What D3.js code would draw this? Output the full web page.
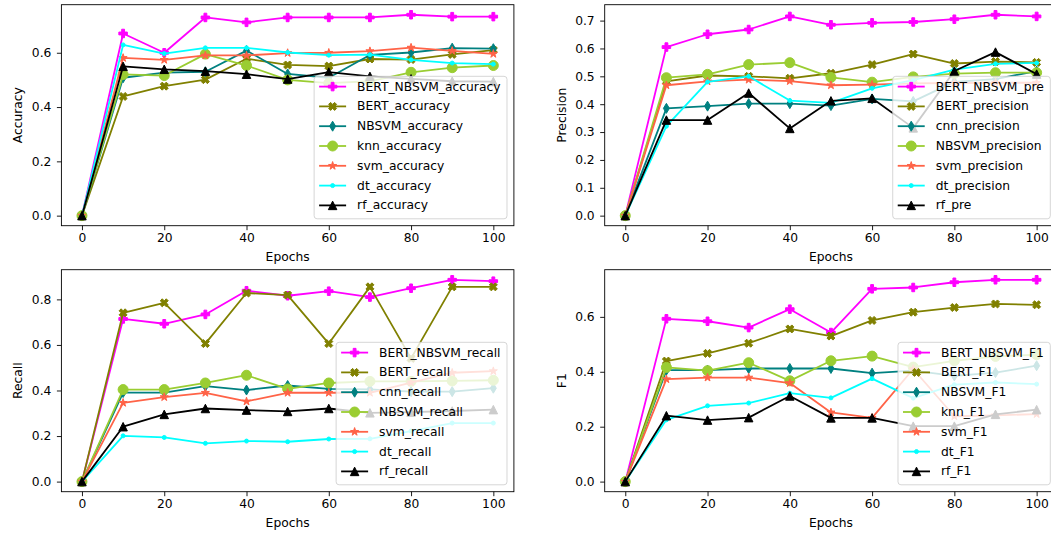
<!DOCTYPE html>
<html><head><meta charset="utf-8">
<script src="https://cdn.jsdelivr.net/npm/d3@7/dist/d3.min.js"></script>
<style>
body{margin:0;background:#fff}
svg{display:block;font-family:"DejaVu Sans",sans-serif}
</style>
</head><body>
<svg id="chart" width="1051" height="533"></svg>
<script>
// ---------- data ----------
const epochs = [0, 10, 20, 30, 40, 50, 60, 70, 80, 90, 100];
const xTickValues = [0, 20, 40, 60, 80, 100];

const accLabels = ["BERT_NBSVM_accuracy","BERT_accuracy","NBSVM_accuracy","knn_accuracy","svm_accuracy","dt_accuracy","rf_accuracy"];
const accBertNbsvm = [0, 0.671, 0.600, 0.730, 0.712, 0.730, 0.730, 0.730, 0.740, 0.733, 0.733];
const accBert      = [0, 0.439, 0.477, 0.501, 0.578, 0.555, 0.551, 0.577, 0.575, 0.594, 0.610];
const accNbsvm     = [0, 0.508, 0.527, 0.530, 0.608, 0.522, 0.508, 0.592, 0.601, 0.617, 0.615];
const accKnn       = [0, 0.520, 0.516, 0.595, 0.553, 0.500, 0.488, 0.495, 0.528, 0.545, 0.553];
const accSvm       = [0, 0.581, 0.574, 0.590, 0.590, 0.599, 0.600, 0.606, 0.619, 0.607, 0.596];
const accDt        = [0, 0.629, 0.597, 0.618, 0.618, 0.601, 0.591, 0.593, 0.574, 0.562, 0.558];
const accRf        = [0, 0.550, 0.539, 0.532, 0.521, 0.503, 0.529, 0.513, 0.504, 0.495, 0.494];
const accTicks = [0, 0.2, 0.4, 0.6];

const preLabels = ["BERT_NBSVM_pre","BERT_precision","cnn_precision","NBSVM_precision","svm_precision","dt_precision","rf_pre"];
const preBertNbsvm = [0, 0.605, 0.651, 0.668, 0.715, 0.685, 0.692, 0.695, 0.705, 0.721, 0.715];
const preBert      = [0, 0.482, 0.503, 0.500, 0.493, 0.511, 0.542, 0.580, 0.546, 0.553, 0.550];
const preCnn       = [0, 0.385, 0.393, 0.402, 0.402, 0.395, 0.419, 0.410, 0.480, 0.490, 0.519];
const preNbsvm     = [0, 0.495, 0.507, 0.542, 0.549, 0.496, 0.479, 0.498, 0.510, 0.513, 0.513];
const preSvm       = [0, 0.468, 0.482, 0.488, 0.483, 0.468, 0.470, 0.475, 0.476, 0.477, 0.477];
const preDt        = [0, 0.321, 0.480, 0.500, 0.413, 0.405, 0.457, 0.486, 0.524, 0.545, 0.548];
const preRf        = [0, 0.343, 0.343, 0.440, 0.313, 0.412, 0.421, 0.315, 0.519, 0.587, 0.508];
const preTicks = [0, 0.1, 0.2, 0.3, 0.4, 0.5, 0.6, 0.7];

const recLabels = ["BERT_NBSVM_recall","BERT_recall","cnn_recall","NBSVM_recall","svm_recall","dt_recall","rf_recall"];
const recBertNbsvm = [0, 0.714, 0.693, 0.734, 0.838, 0.816, 0.836, 0.810, 0.849, 0.886, 0.880];
const recBert      = [0, 0.741, 0.785, 0.606, 0.828, 0.819, 0.606, 0.855, 0.541, 0.855, 0.855];
const recCnn       = [0, 0.391, 0.391, 0.419, 0.402, 0.422, 0.407, 0.405, 0.395, 0.395, 0.410];
const recNbsvm     = [0, 0.404, 0.404, 0.433, 0.467, 0.407, 0.433, 0.440, 0.440, 0.442, 0.445];
const recSvm       = [0, 0.346, 0.371, 0.390, 0.352, 0.390, 0.390, 0.390, 0.435, 0.478, 0.485];
const recDt        = [0, 0.201, 0.194, 0.168, 0.178, 0.175, 0.187, 0.188, 0.222, 0.257, 0.257];
const recRf        = [0, 0.241, 0.295, 0.321, 0.314, 0.308, 0.321, 0.302, 0.305, 0.310, 0.316];
const recTicks = [0, 0.2, 0.4, 0.6, 0.8];

const f1Labels = ["BERT_NBSVM_F1","BERT_F1","NBSVM_F1","knn_F1","svm_F1","dt_F1","rf_F1"];
const f1BertNbsvm = [0, 0.593, 0.584, 0.561, 0.628, 0.543, 0.702, 0.707, 0.726, 0.735, 0.735];
const f1Bert      = [0, 0.439, 0.467, 0.504, 0.556, 0.530, 0.587, 0.617, 0.634, 0.647, 0.644];
const f1Nbsvm     = [0, 0.406, 0.406, 0.412, 0.412, 0.412, 0.395, 0.404, 0.385, 0.397, 0.422];
const f1Knn       = [0, 0.416, 0.404, 0.433, 0.367, 0.440, 0.457, 0.417, 0.440, 0.456, 0.462];
const f1Svm       = [0, 0.373, 0.379, 0.379, 0.359, 0.252, 0.232, 0.410, 0.238, 0.241, 0.246];
const f1Dt        = [0, 0.225, 0.276, 0.286, 0.322, 0.305, 0.375, 0.304, 0.353, 0.361, 0.355];
const f1Rf        = [0, 0.240, 0.224, 0.233, 0.312, 0.232, 0.232, 0.202, 0.202, 0.245, 0.262];
const f1Ticks = [0, 0.2, 0.4, 0.6];

// ---------- styles / layout ----------
const seriesStyles = [
  {color:"#ff00ff", marker:"P"},
  {color:"#808000", marker:"X"},
  {color:"#008080", marker:"d"},
  {color:"#9acd32", marker:"o"},
  {color:"#ff6347", marker:"*"},
  {color:"#00ffff", marker:"."},
  {color:"#000000", marker:"^"}
];

const panels = [
  {ylabel:"Accuracy",  labels:accLabels, ticks:accTicks, fmt:".1f",
   series:[accBertNbsvm, accBert, accNbsvm, accKnn, accSvm, accDt, accRf],
   box:{l:61.4, r:513.9, t:4.7, b:225.7}},
  {ylabel:"Precision", labels:preLabels, ticks:preTicks, fmt:".1f",
   series:[preBertNbsvm, preBert, preCnn, preNbsvm, preSvm, preDt, preRf],
   box:{l:604.7, r:1057.2, t:4.7, b:225.7}},
  {ylabel:"Recall",    labels:recLabels, ticks:recTicks, fmt:".1f",
   series:[recBertNbsvm, recBert, recCnn, recNbsvm, recSvm, recDt, recRf],
   box:{l:61.4, r:513.9, t:269.7, b:491.7}},
  {ylabel:"F1",        labels:f1Labels, ticks:f1Ticks, fmt:".1f",
   series:[f1BertNbsvm, f1Bert, f1Nbsvm, f1Knn, f1Svm, f1Dt, f1Rf],
   box:{l:604.7, r:1057.2, t:269.7, b:491.7}}
];

const FONT = 12.3;
const LW = 1.8;

function markerPath(type, s) {
  const h = s / 2;
  if (type === "P" || type === "X") {
    const w = s / 6;
    let pts = [[-w,-h],[w,-h],[w,-w],[h,-w],[h,w],[w,w],[w,h],[-w,h],[-w,w],[-h,w],[-h,-w],[-w,-w]];
    if (type === "X") {
      const c = Math.SQRT1_2;
      pts = pts.map(([x,y]) => [x*c - y*c, x*c + y*c]);
    }
    return "M" + pts.map(p => p.map(v=>v.toFixed(2)).join(",")).join("L") + "Z";
  }
  if (type === "d") {
    const w = 0.6 * h;
    return `M0,${-h}L${w},0L0,${h}L${-w},0Z`;
  }
  if (type === "o" || type === ".") {
    const r = type === "o" ? h : h * 0.5;
    return `M${r},0A${r},${r} 0 1,1 ${-r},0A${r},${r} 0 1,1 ${r},0Z`;
  }
  if (type === "*") {
    const pts = [];
    for (let i = 0; i < 10; i++) {
      const r = i % 2 === 0 ? h : h * 0.381966;
      const a = -Math.PI/2 + i * Math.PI / 5;
      pts.push([r*Math.cos(a), r*Math.sin(a)]);
    }
    return "M" + pts.map(p => p.map(v=>v.toFixed(2)).join(",")).join("L") + "Z";
  }
  if (type === "^") {
    return `M0,${-h}L${h},${h}L${-h},${h}Z`;
  }
  return "";
}
function markerSize(type) {
  if (type === "o") return 10;
  if (type === "*") return 8.5;
  if (type === ".") return 8;
  if (type === "d") return 10;
  return 8.5;
}

const svg = d3.select("#chart");

panels.forEach(p => {
  const B = p.box;
  const x = d3.scaleLinear().domain([-5, 105]).range([B.l, B.r]);
  const ymax = d3.max(p.series, s => d3.max(s));
  const ymin = d3.min(p.series, s => d3.min(s));
  const span = ymax - ymin;
  const y = d3.scaleLinear().domain([ymin - 0.05*span, ymax + 0.05*span]).range([B.b, B.t]);

  const g = svg.append("g");

  // series
  const line = d3.line().x((d,i) => x(epochs[i])).y(d => y(d));
  p.series.forEach((vals, si) => {
    const st = seriesStyles[si];
    const sg = g.append("g");
    sg.append("path").attr("d", line(vals)).attr("fill","none")
      .attr("stroke", st.color).attr("stroke-width", LW).attr("stroke-linejoin","round");
    const ms = markerSize(st.marker);
    sg.selectAll("path.m").data(vals).join("path").attr("class","m")
      .attr("d", markerPath(st.marker, ms))
      .attr("transform", (d,i) => `translate(${x(epochs[i])},${y(d)})`)
      .attr("fill", st.color).attr("stroke", st.color).attr("stroke-width", 1)
      .attr("stroke-linejoin","miter");
  });

  // axes
  const xAxis = d3.axisBottom(x).tickValues(xTickValues).tickSize(4.5).tickPadding(3).tickFormat(d3.format("d"));
  const yAxis = d3.axisLeft(y).tickValues(p.ticks).tickSize(4.5).tickPadding(5.5).tickFormat(d3.format(p.fmt));
  const gx = g.append("g").attr("transform", `translate(0,${B.b})`).call(xAxis);
  const gy = g.append("g").attr("transform", `translate(${B.l},0)`).call(yAxis);
  [gx, gy].forEach(a => {
    a.select(".domain").remove();
    a.selectAll("text").attr("font-size", FONT).attr("font-family","DejaVu Sans").attr("fill","#000");
    a.selectAll("line").attr("stroke","#000").attr("stroke-width",0.9);
  });

  // frame
  g.append("rect").attr("x", B.l).attr("y", B.t).attr("width", B.r - B.l).attr("height", B.b - B.t)
    .attr("fill","none").attr("stroke","#000").attr("stroke-width",0.9);

  // axis labels
  g.append("text").attr("x", (B.l + B.r)/2).attr("y", B.b + 31)
    .attr("text-anchor","middle").attr("dominant-baseline","central")
    .attr("font-size", FONT).attr("fill","#000").text("Epochs");
  g.append("text").attr("transform", `translate(${B.l - 43},${(B.t+B.b)/2}) rotate(-90)`)
    .attr("text-anchor","middle").attr("dominant-baseline","central")
    .attr("font-size", FONT).attr("fill","#000").text(p.ylabel);

  // legend
  const lg = g.append("g");
  const rowH = 19.8;
  const legH = 142.5;
  const legBottom = B.b - 6.9;
  const legTop = legBottom - legH;
  const bg = lg.append("rect");
  const items = lg.append("g");
  let maxW = 0;
  p.labels.forEach((lab, i) => {
    const cy = legTop + 10.3 + i * rowH;
    const t = items.append("text").attr("y", cy).attr("dominant-baseline","central")
      .attr("font-size", FONT).attr("fill","#000").text(lab);
    maxW = Math.max(maxW, t.node().getComputedTextLength());
  });
  const legW = 43 + maxW + 6.5;
  const legLeft = B.r - 6.9 - legW;
  bg.attr("x", legLeft).attr("y", legTop).attr("width", legW).attr("height", legH)
    .attr("rx", 3).attr("fill","#fff").attr("fill-opacity",0.8)
    .attr("stroke","#cccccc").attr("stroke-opacity",0.8).attr("stroke-width",1);
  items.selectAll("text").attr("x", legLeft + 43);
  p.labels.forEach((lab, i) => {
    const st = seriesStyles[i];
    const cy = legTop + 10.3 + i * rowH;
    items.append("line").attr("x1", legLeft + 5).attr("x2", legLeft + 32).attr("y1", cy).attr("y2", cy)
      .attr("stroke", st.color).attr("stroke-width", LW);
    items.append("path").attr("d", markerPath(st.marker, markerSize(st.marker)))
      .attr("transform", `translate(${legLeft + 18.5},${cy})`)
      .attr("fill", st.color).attr("stroke", st.color).attr("stroke-width", 1);
  });
});
</script>
</body></html>
